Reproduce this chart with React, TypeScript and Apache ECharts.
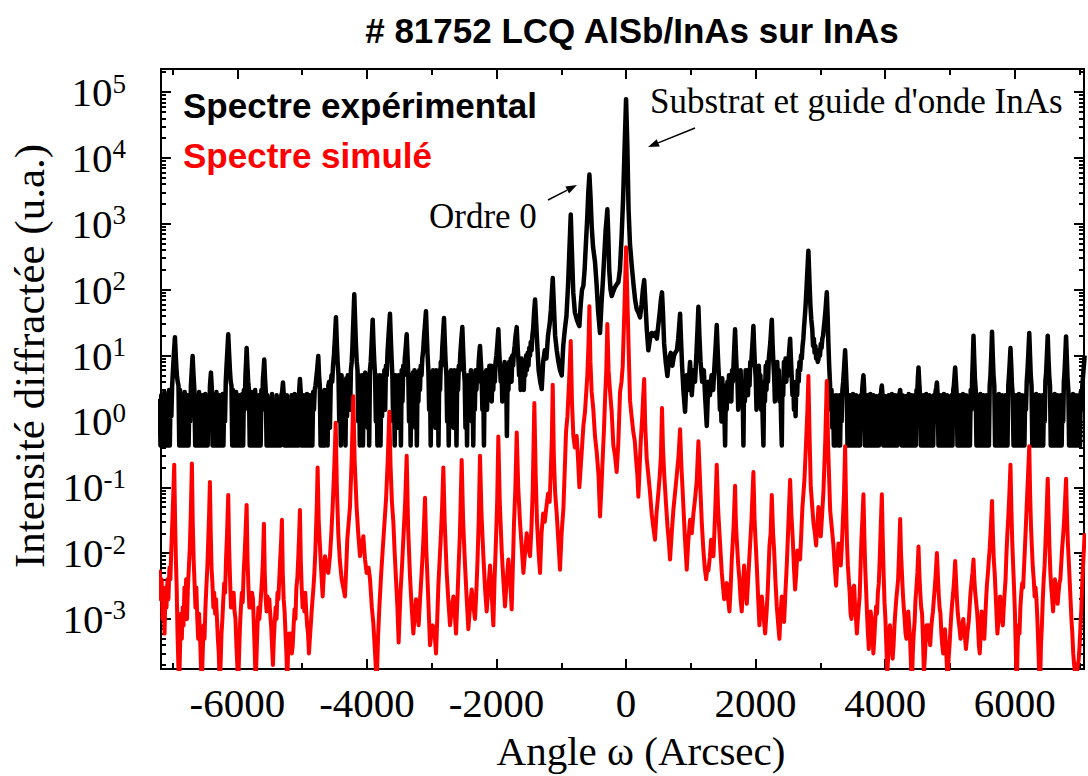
import React, { useEffect, useRef } from "react";
import * as echarts from "echarts";

// ---- Data (angle in arcsec, diffracted intensity in arbitrary units) ----
const experimentalSpectrum: [number, number][] = [
  [-7200,2.2],[-7188,0.43],[-7176,2.5],[-7164,0.43],[-7152,2],[-7140,0.43],[-7128,2.8],[-7116,0.43],[-7104,2.2],[-7092,0.43],[-7080,2.5],[-7068,0.43],[-7056,3],[-7044,0.43],[-7032,2.5],[-7020,1.2],[-7008,3.5],[-6995,6],[-6980,11],
  [-6965,19],[-6950,9],[-6935,5],[-6922,4],[-6910,3.5],[-6898,0.43],[-6886,3],[-6874,0.43],[-6862,2.5],[-6850,0.43],[-6838,2.2],[-6826,0.43],[-6814,2.8],[-6802,0.43],[-6790,2],[-6778,0.43],[-6766,2.5],[-6754,0.43],[-6742,2.2],[-6730,1],[-6718,3.5],[-6705,6],
  [-6692,9.8],[-6678,5],[-6665,3],[-6652,0.43],[-6640,2.5],[-6628,0.43],[-6616,2.2],[-6604,0.43],[-6592,2.8],[-6580,0.43],[-6568,2],[-6556,0.43],[-6544,2.5],[-6532,0.43],[-6520,2.2],[-6508,0.43],[-6496,2.6],[-6484,0.43],[-6472,2],[-6460,0.43],[-6448,2.5],[-6436,1],[-6424,3.5],
  [-6409,5.5],[-6396,3.2],[-6384,0.43],[-6372,2.5],[-6360,0.43],[-6348,2],[-6336,0.43],[-6324,2.8],[-6312,0.43],[-6300,2.2],[-6288,0.43],[-6276,2.5],[-6264,0.43],[-6252,2],[-6240,0.43],[-6228,2.6],[-6216,0.43],[-6204,2.2],[-6192,1],[-6180,4],[-6168,7],[-6155,12],
  [-6142,21],[-6129,11],[-6116,6],[-6104,4],[-6092,3.5],[-6080,0.43],[-6068,3],[-6056,0.43],[-6044,2.5],[-6032,0.43],[-6020,2.8],[-6008,0.43],[-5996,2.2],[-5984,0.43],[-5972,2.5],[-5960,0.43],[-5948,2],[-5936,0.43],[-5924,2.6],[-5912,0.43],[-5900,3],[-5888,1.5],[-5876,5],[-5866,8],
  [-5858,13],[-5846,7],[-5834,4],[-5822,3],[-5810,0.43],[-5798,2.5],[-5786,0.43],[-5774,2.8],[-5762,0.43],[-5750,2.2],[-5738,0.43],[-5726,3],[-5714,0.43],[-5702,2],[-5690,0.43],[-5678,2.5],[-5666,0.43],[-5654,2.2],[-5642,0.43],[-5630,3],[-5618,1.5],[-5606,4.5],[-5596,6],
  [-5586,8.7],[-5574,4.5],[-5562,2.8],[-5550,0.43],[-5538,2.5],[-5526,0.43],[-5514,2],[-5502,0.43],[-5490,2.2],[-5478,0.43],[-5466,2.6],[-5454,0.43],[-5442,2],[-5430,0.43],[-5418,1.8],[-5406,0.43],[-5394,2.5],[-5382,0.43],[-5370,2.2],[-5358,0.43],[-5346,2],[-5334,0.43],[-5322,2.5],[-5310,2.8],
  [-5297,3.9],[-5285,2.5],[-5273,0.43],[-5261,2.2],[-5249,0.43],[-5237,2.5],[-5225,0.43],[-5213,2],[-5201,0.43],[-5189,1.8],[-5177,0.43],[-5165,2.5],[-5153,0.43],[-5141,2.2],[-5129,0.43],[-5117,2.6],[-5105,0.43],[-5093,2],[-5081,0.43],[-5069,2.5],[-5057,0.43],[-5046,3],
  [-5035,4.4],[-5023,2.8],[-5011,0.43],[-4999,2.2],[-4987,0.43],[-4975,2.5],[-4963,0.43],[-4951,2],[-4939,0.43],[-4927,2.6],[-4915,0.43],[-4903,2.2],[-4891,0.43],[-4879,2.5],[-4867,0.43],[-4855,2],[-4843,0.43],[-4831,2.8],[-4819,1.5],[-4807,3],[-4795,3.5],[-4783,4.5],[-4770,6],
  [-4752,9.8],[-4740,5],[-4728,3.5],[-4716,0.43],[-4704,2.8],[-4692,0.43],[-4680,2.5],[-4668,0.43],[-4656,3],[-4644,0.43],[-4632,2.5],[-4620,3],[-4608,0.43],[-4596,3.5],[-4584,4],[-4572,0.8],[-4560,3.5],[-4548,5],[-4536,4],[-4524,7],[-4510,10],[-4495,18],
  [-4479,38],[-4466,16],[-4453,8],[-4440,5],[-4428,1],[-4416,4.5],[-4404,0.43],[-4392,5],[-4380,1.5],[-4368,4],[-4356,0.8],[-4344,3.5],[-4332,0.43],[-4320,4.5],[-4308,1.2],[-4296,5],[-4284,2],[-4272,4],[-4260,1.5],[-4248,6],[-4236,8],[-4224,14],[-4210,35],
  [-4196,85],[-4182,32],[-4170,14],[-4158,8],[-4146,6],[-4134,1],[-4122,5],[-4110,0.43],[-4098,4.5],[-4086,1.5],[-4074,5],[-4062,0.43],[-4050,4],[-4038,1.2],[-4026,5.5],[-4014,2],[-4002,4.5],[-3990,0.8],[-3978,5],[-3966,0.43],[-3954,6],[-3942,8],[-3930,14],
  [-3912,35],[-3899,15],[-3887,8],[-3875,5],[-3863,1],[-3851,5],[-3839,0.43],[-3827,4.5],[-3815,1.5],[-3803,5],[-3791,0.43],[-3779,4],[-3767,1.2],[-3755,5],[-3743,2],[-3731,6],[-3719,1.5],[-3707,7],[-3695,5],[-3683,11],[-3670,18],[-3658,28],
  [-3645,43],[-3632,18],[-3620,9],[-3608,5],[-3596,1],[-3584,4.5],[-3572,0.43],[-3560,5],[-3548,1.5],[-3536,4],[-3524,0.8],[-3512,5],[-3500,2],[-3488,4.5],[-3476,0.43],[-3464,6],[-3452,2],[-3440,7],[-3428,5],[-3416,9],[-3402,13],
  [-3387,21],[-3374,10],[-3362,5],[-3350,1],[-3338,4.5],[-3326,0.43],[-3314,5],[-3302,1.5],[-3290,5.5],[-3278,2],[-3266,6],[-3254,0.8],[-3242,5],[-3230,0.43],[-3218,5.5],[-3206,2],[-3194,6],[-3182,3],[-3170,7],[-3158,5],[-3146,9],[-3132,12],[-3118,20],[-3104,30],
  [-3089,47],[-3076,20],[-3064,10],[-3052,6],[-3040,1.5],[-3028,5],[-3016,0.43],[-3004,5.5],[-2992,1.5],[-2980,6],[-2968,2],[-2956,5],[-2944,0.8],[-2932,6],[-2920,1.5],[-2908,5],[-2896,0.43],[-2884,6],[-2872,3],[-2860,8],[-2848,7],[-2836,14],[-2824,22],
  [-2811,37],[-2798,16],[-2786,8],[-2774,5],[-2762,1],[-2750,5],[-2738,0.43],[-2726,5.5],[-2714,1.5],[-2702,6],[-2690,2],[-2678,5],[-2666,0.8],[-2654,6],[-2642,1.5],[-2630,5],[-2618,0.43],[-2606,6],[-2594,3],[-2582,7],[-2570,6],[-2558,11],[-2544,17],
  [-2528,27],[-2515,12],[-2503,6],[-2491,4],[-2479,0.8],[-2467,4.5],[-2455,0.43],[-2443,5],[-2431,1.5],[-2419,5],[-2407,2],[-2395,6],[-2383,1],[-2371,5],[-2359,0.43],[-2347,5],[-2335,1.5],[-2323,6],[-2311,3],[-2299,5],[-2287,4],[-2275,8],[-2265,11],
  [-2255,14],[-2242,8],[-2230,5],[-2218,1.5],[-2206,5],[-2194,0.43],[-2182,5.5],[-2170,2],[-2158,6],[-2146,1.5],[-2134,6],[-2122,2.5],[-2110,7],[-2098,3],[-2086,7],[-2074,2],[-2062,6],[-2050,3],[-2038,7],[-2026,4],[-2014,8],[-2002,10],[-1990,14],[-1982,18],
  [-1972,25],[-1959,12],[-1947,7],[-1935,4],[-1923,7],[-1911,2],[-1899,7],[-1887,3],[-1875,8],[-1863,2.5],[-1851,6],[-1840,0.6],[-1828,6],[-1816,3],[-1804,8],[-1792,5],[-1780,9],[-1768,4],[-1756,10],[-1744,7],[-1732,11],[-1720,14],[-1706,20],
  [-1688,27],[-1675,14],[-1663,9],[-1651,5],[-1639,8],[-1627,3],[-1615,9],[-1603,4],[-1591,8],[-1579,3],[-1567,7],[-1555,5],[-1543,10],[-1531,6],[-1519,11],[-1507,7],[-1495,13],[-1483,10],[-1471,16],[-1459,12],[-1447,20],[-1435,25],[-1420,45],
  [-1405,71],[-1390,35],[-1370,14],[-1350,6],[-1325,4],[-1302,3.1],[-1280,8],[-1255,12],[-1230,9],[-1205,20],[-1180,30],[-1160,50],[-1145,90],
  [-1132,150],[-1115,60],[-1095,20],[-1070,12],[-1045,8],[-1020,6],[-993,5],[-970,14],[-945,25],[-920,40],[-895,120],[-875,400],
  [-854,1380],[-835,350],[-815,90],[-790,45],[-760,35],[-735,30],[-721,28],[-700,60],[-680,100],[-659,115],[-640,200],[-620,500],[-600,1200],[-583,3000],
  [-566,5600],[-548,2500],[-530,900],[-510,450],[-479,260],[-455,120],[-430,45],[-402,22],[-380,60],[-355,150],[-335,350],[-315,800],[-300,1200],
  [-289,1660],[-275,700],[-260,200],[-240,100],[-221,80],[-195,95],[-170,110],[-145,120],[-119,130],[-95,200],[-70,600],[-45,2500],[-25,12000],
  [0,78000],[20,15000],[38,1700],[60,500],[88,230],[115,120],[140,70],[165,50],[190,45],[216,38],[240,60],[260,100],
  [280,140],[300,60],[320,25],[344,12],[370,18],[395,22],[420,20],[448,22],[475,18],[500,30],[520,45],[538,70],
  [555,91],[570,45],[588,15],[612,8],[638,4.9],[665,9],[690,11],[715,7],[740,10],[760,11],[785,12],[805,18],[820,28],
  [834,43],[848,18],[865,7],[885,3],[911,1.4],[935,5],[960,3],[988,8],[1015,2.5],[1040,6],[1065,4],[1085,10],[1103,25],
  [1117,55],[1132,20],[1150,8],[1175,4],[1200,6],[1225,2],[1246,0.85],[1270,4],[1295,2.5],[1320,5],[1345,3],[1365,7],[1385,15],
  [1400,29],[1413,13],[1425,7],[1437,4],[1449,1.5],[1461,4],[1473,1],[1485,4.5],[1497,2],[1509,3.5],[1521,1],[1529,0.43],[1541,3],[1553,1.5],[1565,4],[1577,2],[1589,5],[1601,2.5],[1613,5],[1625,2],[1637,6],[1649,4],[1661,8],[1672,14],
  [1683,25],[1696,11],[1708,6],[1720,4],[1732,1.5],[1744,5],[1756,2],[1768,6],[1780,2.5],[1792,4],[1804,1.5],[1812,0.43],[1822,4],[1834,2],[1846,6],[1858,3],[1870,6],[1882,2.5],[1894,6],[1906,3.5],[1918,8],[1930,7],[1942,11],[1954,17],
  [1966,28],[1978,13],[1990,7],[2002,4.5],[2014,1.5],[2026,5],[2038,2],[2050,7],[2062,3],[2074,5],[2086,1.5],[2098,4],[2110,1],[2121,0.43],[2132,4],[2144,2],[2156,7],[2168,3],[2180,8],[2192,4],[2204,9],[2216,12],[2228,16],[2239,24],
  [2250,35],[2262,15],[2274,8],[2286,5],[2298,2],[2310,6],[2322,2.5],[2334,8],[2346,3],[2358,6],[2370,2],[2382,4],[2394,1],[2404,0.43],[2414,4],[2426,2.5],[2438,8],[2450,4],[2462,9],[2474,4],[2486,7],[2498,5],[2510,9],[2522,13],
  [2533,18],[2545,9],[2557,5],[2569,2.5],[2581,4],[2593,1.5],[2605,3],[2617,1.2],[2629,4],[2641,2.5],[2653,6],[2665,4],[2677,8],[2689,6],[2701,10],[2713,9],[2725,14],[2737,18],[2749,28],[2761,40],[2773,60],[2785,100],[2800,200],
  [2815,390],[2830,150],[2845,60],[2860,35],[2875,25],[2887,14],[2899,18],[2911,11],[2923,14],[2935,9],[2947,12],[2959,8],[2970,8.7],[2982,12],[2994,10],[3006,15],[3018,13],[3030,18],[3042,20],[3054,27],[3066,35],[3080,50],
  [3099,91],[3112,40],[3124,15],[3136,7],[3148,3.9],[3160,1.5],[3172,3],[3184,0.8],[3196,2.5],[3208,0.43],[3220,2.2],[3232,0.43],[3244,2.5],[3256,0.8],[3268,2.2],[3280,0.43],[3292,2.5],[3304,0.43],[3316,2.2],[3328,1],[3340,3],[3352,4],[3364,6],[3374,9],
  [3382,12],[3395,6],[3407,3],[3419,0.43],[3431,2.2],[3443,0.43],[3455,2.5],[3467,0.43],[3479,2],[3491,0.43],[3503,2.6],[3515,0.43],[3527,2.2],[3539,0.43],[3551,2.5],[3563,0.43],[3575,2],[3587,0.43],[3599,2.4],[3611,0.43],[3623,2.5],[3635,1],[3645,3],[3655,4],
  [3665,5],[3676,3.2],[3688,0.43],[3700,2.2],[3712,0.43],[3724,2.5],[3736,0.43],[3748,2],[3760,0.43],[3772,2.6],[3784,0.43],[3796,2.2],[3808,0.43],[3820,2.5],[3832,0.43],[3844,2],[3856,0.43],[3868,2.4],[3880,0.43],[3892,2.2],[3904,0.43],[3916,2.5],[3928,1.2],[3939,3],
  [3949,3.5],[3960,2.5],[3972,0.43],[3984,2],[3996,0.43],[4008,2.4],[4020,0.43],[4032,2.2],[4044,0.43],[4056,2.5],[4068,0.43],[4080,2],[4092,0.43],[4104,2.6],[4116,0.43],[4128,2.2],[4140,0.43],[4152,2.5],[4164,0.43],[4176,2],[4188,0.43],[4200,2.5],[4212,1],[4222,2.6],
  [4232,3],[4244,2.2],[4256,0.43],[4268,2.5],[4280,0.43],[4292,2],[4304,0.43],[4316,2.4],[4328,0.43],[4340,2.2],[4352,0.43],[4364,2.6],[4376,0.43],[4388,2],[4400,0.43],[4412,2.5],[4424,0.43],[4436,2.2],[4448,0.43],[4460,2.5],[4472,0.43],[4484,3],[4494,2.5],[4505,4.5],
  [4515,6.6],[4526,4],[4538,2.5],[4550,0.43],[4562,2.2],[4574,0.43],[4586,2.5],[4598,0.43],[4610,2],[4622,0.43],[4634,2.6],[4646,0.43],[4658,2.2],[4670,0.43],[4682,2.5],[4694,0.43],[4706,2],[4718,0.43],[4730,2.4],[4742,0.43],[4754,2.5],[4766,1],[4777,2.8],[4788,3.2],
  [4799,3.9],[4811,2.5],[4823,0.43],[4835,2.2],[4847,0.43],[4859,2.5],[4871,0.43],[4883,2],[4895,0.43],[4907,2.6],[4919,0.43],[4931,2.2],[4943,0.43],[4955,2.5],[4967,0.43],[4979,2],[4991,0.43],[5003,2.4],[5015,0.43],[5027,2.5],[5039,0.43],[5051,3],[5061,3.5],[5071,4.8],
  [5081,6.6],[5093,4],[5105,2.5],[5117,0.43],[5129,2.2],[5141,0.43],[5153,2.5],[5165,0.43],[5177,2],[5189,0.43],[5201,2.6],[5213,0.43],[5225,2.2],[5237,0.43],[5249,2.5],[5261,0.43],[5273,2],[5285,0.43],[5297,2.4],[5309,0.43],[5321,3],[5333,1.5],[5343,4.5],[5354,9],
  [5364,20],[5375,9],[5386,4.5],[5398,3],[5410,0.43],[5422,2.5],[5434,0.43],[5446,2.2],[5458,0.43],[5470,2.6],[5482,0.43],[5494,2],[5506,0.43],[5518,2.5],[5530,0.43],[5542,2.2],[5554,0.43],[5566,2.5],[5578,0.43],[5590,2.4],[5602,0.43],[5614,3.5],[5626,5],[5638,10],
  [5650,23],[5662,10],[5673,5],[5685,3.5],[5697,0.43],[5709,2.5],[5721,0.43],[5733,2.2],[5745,0.43],[5757,2.6],[5769,0.43],[5781,2],[5793,0.43],[5805,2.5],[5817,0.43],[5829,2.2],[5841,0.43],[5853,2.5],[5865,0.43],[5877,2.4],[5889,0.43],[5901,3.5],[5912,5],[5924,8],
  [5935,13],[5947,7],[5958,3.5],[5970,2.5],[5982,0.43],[5994,2.2],[6006,0.43],[6018,2.5],[6030,0.43],[6042,2],[6054,0.43],[6066,2.6],[6078,0.43],[6090,2.2],[6102,0.43],[6114,2.5],[6126,0.43],[6138,2.4],[6150,0.43],[6162,2.5],[6174,1.5],[6186,4],[6198,6],[6211,11],
  [6225,22],[6237,10],[6248,5],[6260,3.5],[6272,0.43],[6284,2.5],[6296,0.43],[6308,2.2],[6320,0.43],[6332,2.6],[6344,0.43],[6356,2],[6368,0.43],[6380,2.5],[6392,0.43],[6404,2.2],[6416,0.43],[6428,2.5],[6440,0.43],[6452,2.4],[6464,1],[6474,4],[6485,5.5],[6497,10],
  [6510,20],[6522,9],[6533,5],[6545,3.5],[6557,0.43],[6569,2.5],[6581,0.43],[6593,2.2],[6605,0.43],[6617,2.6],[6629,0.43],[6641,2],[6653,0.43],[6665,2.5],[6677,0.43],[6689,2.2],[6701,0.43],[6713,2.5],[6725,0.43],[6737,2.4],[6749,1],[6759,4],[6769,5.5],[6781,10],
  [6793,19.5],[6805,9],[6816,4.5],[6828,3],[6840,0.43],[6852,2.5],[6864,0.43],[6876,2.2],[6888,0.43],[6900,2.6],[6912,0.43],[6924,2],[6936,0.43],[6948,2.5],[6960,0.43],[6972,2.2],[6984,0.43],[6996,2.5],[7008,0.43],[7020,2.8],[7032,1.5],[7044,3.5],[7056,5],[7068,7],[7080,10]
];

const simulatedSpectrum: [number, number][] = [
  [-7200,5.6e-3],[-7185,2e-3],[-7170,4e-3],[-7155,1e-3],[-7140,2.5e-3],[-7125,6e-4],[-7110,3e-3],[-7095,1.5e-3],[-7080,4e-3],[-7065,2e-3],[-7050,6e-3],[-7035,4e-3],[-7020,0.012],[-7005,0.03],[-6990,0.08],
  [-6976,0.22],[-6962,0.03],[-6950,8e-3],[-6938,3e-3],[-6925,6e-4],[-6912,2e-4],[-6898,1e-4],[-6885,4e-4],[-6872,1.2e-3],[-6858,5e-4],[-6845,1.5e-3],[-6832,8e-4],[-6818,3e-3],[-6805,1.5e-3],[-6792,4e-3],[-6778,1e-3],[-6765,3e-3],[-6750,6e-3],[-6735,0.012],[-6720,0.04],
  [-6703,0.23],[-6690,0.03],[-6676,8e-3],[-6662,3.5e-3],[-6648,1.5e-3],[-6634,3e-3],[-6620,1e-3],[-6606,5e-4],[-6592,1.2e-3],[-6578,6e-4],[-6564,2e-4],[-6550,1e-4],[-6536,3e-4],[-6522,8e-4],[-6508,5e-4],[-6494,1.5e-3],[-6480,3e-3],[-6465,6e-3],[-6450,0.016],[-6437,0.04],
  [-6425,0.12],[-6412,0.02],[-6400,6e-3],[-6386,3.5e-3],[-6372,1.5e-3],[-6358,2.5e-3],[-6344,1.2e-3],[-6330,2e-3],[-6316,1e-3],[-6302,5e-4],[-6288,3e-4],[-6274,1e-4],[-6260,2e-4],[-6246,6e-4],[-6232,1e-3],[-6218,2e-3],[-6204,3.5e-3],[-6190,2.5e-3],[-6176,8e-3],[-6160,0.02],
  [-6142,0.076],[-6128,0.012],[-6114,4e-3],[-6100,1.5e-3],[-6086,2.5e-3],[-6072,1.5e-3],[-6058,2.5e-3],[-6044,1.3e-3],[-6030,1e-3],[-6016,4e-4],[-6002,2e-4],[-5988,1e-4],[-5974,3e-4],[-5960,8e-4],[-5946,1.5e-3],[-5932,2.5e-3],[-5918,1.8e-3],[-5904,5e-3],[-5890,9e-3],[-5875,0.02],
  [-5858,0.054],[-5844,8e-3],[-5830,3e-3],[-5816,1.5e-3],[-5802,2.5e-3],[-5788,1.5e-3],[-5774,2.5e-3],[-5760,2e-3],[-5746,8e-4],[-5732,3e-4],[-5718,1e-4],[-5704,3e-4],[-5690,8e-4],[-5676,1.5e-3],[-5662,1e-3],[-5648,1.5e-3],[-5634,2.5e-3],[-5620,4e-3],[-5606,8e-3],
  [-5591,0.028],[-5578,5e-3],[-5564,2e-3],[-5550,1.3e-3],[-5536,2.2e-3],[-5522,1.5e-3],[-5508,2e-3],[-5494,1.2e-3],[-5480,8e-4],[-5466,4e-4],[-5452,2e-4],[-5438,5e-4],[-5424,9e-4],[-5410,1.5e-3],[-5396,1e-3],[-5382,2.5e-3],[-5368,2e-3],[-5354,4e-3],[-5340,8e-3],[-5326,0.015],
  [-5313,0.032],[-5300,5e-3],[-5286,2e-3],[-5272,1.3e-3],[-5258,6e-4],[-5244,3e-4],[-5230,1e-4],[-5216,4e-4],[-5202,6e-4],[-5188,4e-4],[-5174,6e-4],[-5160,3e-4],[-5146,4e-4],[-5132,8e-4],[-5118,1.4e-3],[-5104,1e-3],[-5090,3e-3],[-5076,4e-3],[-5062,8e-3],[-5048,0.018],
  [-5035,0.045],[-5022,8e-3],[-5008,3e-3],[-4994,1.5e-3],[-4980,2.5e-3],[-4966,1.3e-3],[-4952,2.5e-3],[-4938,1.3e-3],[-4924,8e-4],[-4910,6e-4],[-4896,3e-4],[-4882,5e-4],[-4868,8e-4],[-4854,1.3e-3],[-4840,2e-3],[-4826,3e-3],[-4812,5e-3],[-4798,0.01],[-4785,0.025],[-4773,0.06],
  [-4762,0.2],[-4745,0.03],[-4726,0.013],[-4705,5e-3],[-4684,2.2e-3],[-4665,5e-3],[-4648,9e-3],[-4620,6e-3],[-4597,5e-3],[-4571,9e-3],[-4550,0.02],[-4530,0.051],[-4505,0.2],
  [-4483,0.95],[-4465,0.1],[-4443,0.02],[-4420,8e-3],[-4391,4e-3],[-4365,3e-3],[-4340,2.2e-3],[-4320,6e-3],[-4304,0.016],[-4262,0.051],[-4235,0.3],
  [-4211,2.4],[-4190,0.25],[-4160,0.05],[-4135,0.02],[-4108,9e-3],[-4080,0.014],[-4056,0.018],[-4030,8e-3],[-4005,5e-3],[-3975,6e-3],[-3953,4e-3],[-3925,1.5e-3],[-3902,8.7e-4],[-3875,3e-4],[-3850,1e-4],[-3830,5e-4],[-3809,1.5e-3],[-3780,5e-3],[-3747,0.016],[-3706,0.065],[-3680,0.25],
  [-3655,1.4],[-3635,0.2],[-3615,0.06],[-3593,0.03],[-3572,0.01],[-3552,4e-3],[-3530,1.5e-3],[-3511,4.4e-4],[-3495,1.2e-3],[-3480,2.8e-3],[-3460,6e-3],[-3439,0.016],[-3410,0.06],
  [-3387,0.3],[-3365,0.025],[-3336,4.5e-3],[-3310,1.5e-3],[-3284,6e-4],[-3262,1.2e-3],[-3243,2e-3],[-3222,1.2e-3],[-3202,8e-4],[-3180,2e-3],[-3156,5e-3],[-3130,0.015],
  [-3104,0.069],[-3085,0.012],[-3063,3.5e-3],[-3045,1.2e-3],[-3027,4e-4],[-3005,6e-4],[-2986,8e-4],[-2960,7e-4],[-2934,3e-4],[-2915,1e-3],[-2898,3.2e-3],[-2862,0.016],[-2840,0.05],
  [-2821,0.2],[-2800,0.03],[-2769,5e-3],[-2745,2e-3],[-2718,8e-4],[-2690,1.5e-3],[-2666,2.2e-3],[-2645,1.2e-3],[-2625,6e-4],[-2605,1.8e-3],[-2589,5e-3],[-2565,0.02],
  [-2538,0.26],[-2515,0.03],[-2486,6.5e-3],[-2460,2e-3],[-2435,7e-4],[-2410,1.5e-3],[-2383,2.8e-3],[-2358,1.6e-3],[-2332,1e-3],[-2312,2.5e-3],[-2296,6.5e-3],[-2275,0.03],
  [-2255,0.3],[-2232,0.04],[-2203,9e-3],[-2178,3e-3],[-2152,1.3e-3],[-2125,3e-3],[-2100,6.5e-3],[-2075,2.5e-3],[-2049,8e-4],[-2030,4e-3],[-2008,0.016],[-1990,0.06],
  [-1972,0.59],[-1950,0.06],[-1920,0.011],[-1895,4e-3],[-1869,1.55e-3],[-1845,3.5e-3],[-1817,8e-3],[-1790,4e-3],[-1766,1.4e-3],[-1748,6e-3],[-1730,0.029],[-1710,0.09],
  [-1688,0.68],[-1665,0.1],[-1637,0.029],[-1610,0.012],[-1585,5e-3],[-1560,0.01],[-1534,0.02],[-1508,0.012],[-1482,9e-3],[-1460,0.025],[-1441,0.09],
  [-1416,1.9],[-1395,0.15],[-1375,0.03],[-1350,0.01],[-1328,5e-3],[-1305,0.02],[-1280,0.04],[-1255,0.03],[-1230,0.05],[-1205,0.08],[-1180,0.06],[-1160,0.2],[-1145,0.6],
  [-1132,3.6],[-1115,0.3],[-1095,0.083],[-1071,0.04],[-1045,0.015],[-1020,5.6e-3],[-995,0.02],[-968,0.046],[-945,0.2],[-927,0.68],[-905,1.2],[-880,4],
  [-854,16.6],[-835,2],[-814,0.6],[-790,0.4],[-762,0.6],[-740,0.25],[-721,0.1],[-700,0.2],[-685,0.34],[-659,0.85],[-634,1.4],[-598,5],[-580,15],
  [-566,56],[-550,8],[-531,2.8],[-505,1.5],[-480,0.6],[-453,0.34],[-425,0.15],[-402,0.036],[-380,0.1],[-361,0.27],[-340,0.8],[-325,2.1],[-305,6],
  [-289,30],[-270,6],[-247,2.8],[-222,1.4],[-196,0.43],[-170,0.3],[-145,0.17],[-119,0.48],[-93,2.8],[-70,4],[-52,6.9],[-26,50],
  [0,440],[25,50],[45,8],[61,2.1],[85,1.2],[113,0.68],[135,0.5],[154,0.27],[175,0.15],[190,0.072],[210,0.2],[226,0.48],[250,1.2],[265,2.5],
  [280,4.4],[295,0.9],[319,0.27],[345,0.15],[370,0.083],[395,0.04],[420,0.025],[447,0.016],[470,0.04],[499,0.083],[520,0.15],[538,0.3],
  [555,1.6],[570,0.4],[590,0.15],[615,0.06],[640,0.025],[660,0.015],[679,8e-3],[705,0.02],[731,0.046],[755,0.08],[782,0.15],[810,0.3],
  [834,0.76],[855,0.2],[875,0.083],[905,0.02],[937,5.6e-3],[960,0.015],[988,0.032],[1015,0.02],[1040,0.04],[1065,0.066],[1090,0.12],
  [1117,0.5],[1143,0.12],[1169,0.029],[1194,0.011],[1215,6e-3],[1236,4e-3],[1255,6e-3],[1272,5.5e-3],[1295,9e-3],[1313,0.016],[1330,0.01],[1349,9e-3],[1375,0.04],
  [1400,0.22],[1420,0.05],[1442,0.02],[1460,0.01],[1478,5e-3],[1514,2e-3],[1535,3e-3],[1555,3.5e-3],[1575,2e-3],[1596,1.3e-3],[1615,3e-3],[1632,8e-3],[1660,0.025],
  [1683,0.105],[1695,0.03],[1709,0.016],[1730,7e-3],[1750,4e-3],[1768,2e-3],[1786,1.3e-3],[1805,3e-3],[1822,6.5e-3],[1845,3e-3],[1864,1.7e-3],[1885,4e-3],[1905,9e-3],[1935,0.03],
  [1966,0.17],[1985,0.03],[2018,6.5e-3],[2040,2e-3],[2059,8e-4],[2078,1.5e-3],[2095,2.2e-3],[2120,1.2e-3],[2147,6e-4],[2168,1.2e-3],[2188,2.8e-3],[2214,0.013],[2232,0.02],
  [2250,0.076],[2270,0.02],[2286,0.011],[2305,4e-3],[2327,1.55e-3],[2350,8e-4],[2368,5e-4],[2385,1.2e-3],[2404,2.2e-3],[2420,1.5e-3],[2440,9e-4],[2460,2.5e-3],[2481,6.5e-3],[2507,0.029],
  [2533,0.13],[2552,0.04],[2574,0.016],[2592,6e-3],[2610,2.8e-3],[2628,5e-3],[2646,0.011],[2667,9e-3],[2687,8e-3],[2705,0.02],[2723,0.05],[2754,0.13],[2780,0.5],[2800,1.5],
  [2815,4.9],[2835,0.5],[2852,0.1],[2875,0.05],[2893,0.029],[2915,0.02],[2934,0.013],[2952,0.025],[2970,0.05],[2990,0.03],[3006,0.018],[3028,0.04],[3048,0.09],[3075,0.5],
  [3099,4.1],[3120,0.4],[3151,0.045],[3175,0.025],[3202,0.013],[3222,6e-3],[3243,3.2e-3],[3260,7e-3],[3279,0.014],[3298,9e-3],[3315,6.5e-3],[3330,0.012],[3346,0.029],[3365,0.08],
  [3382,0.42],[3396,0.06],[3410,0.015],[3424,6.5e-3],[3438,4e-3],[3452,2.5e-3],[3466,1.2e-3],[3480,1e-3],[3494,1.8e-3],[3508,3e-3],[3522,3.2e-3],[3536,1.5e-3],[3550,1e-3],[3564,6e-4],[3578,1e-3],[3592,1.5e-3],[3606,2.2e-3],[3620,6e-3],[3634,0.016],[3650,0.035],
  [3665,0.078],[3678,0.02],[3692,6e-3],[3706,2.8e-3],[3720,1.2e-3],[3734,6e-4],[3748,3.5e-4],[3762,8e-4],[3776,1.3e-3],[3790,1e-3],[3804,6e-4],[3818,3e-4],[3832,5e-4],[3846,9e-4],[3860,1.55e-3],[3874,1.2e-3],[3888,2.5e-3],[3902,3.5e-3],[3916,8e-3],[3932,0.025],
  [3949,0.078],[3962,0.018],[3976,5e-3],[3990,1.8e-3],[4004,1e-3],[4018,4e-4],[4032,1.5e-4],[4046,2.5e-4],[4060,6e-4],[4074,8e-4],[4088,5e-4],[4102,4e-4],[4116,2.5e-4],[4130,4e-4],[4144,8e-4],[4158,1.3e-3],[4172,2e-3],[4186,2.8e-3],[4200,4e-3],[4215,0.01],
  [4232,0.033],[4245,0.01],[4259,5e-3],[4273,2.5e-3],[4287,1.5e-3],[4301,1e-3],[4315,6e-4],[4329,5e-4],[4343,8e-4],[4357,1.3e-3],[4371,8e-4],[4385,5e-4],[4399,2e-4],[4413,1e-4],[4427,3e-4],[4441,6e-4],[4455,9e-4],[4469,2e-3],[4483,3e-3],[4498,5e-3],
  [4515,0.0126],[4528,5e-3],[4542,2.5e-3],[4556,1.5e-3],[4570,1.2e-3],[4584,5e-4],[4598,1.5e-4],[4612,2.5e-4],[4626,5e-4],[4640,8e-4],[4654,6e-4],[4668,8e-4],[4682,5e-4],[4696,4e-4],[4710,7e-4],[4724,1e-3],[4738,1.3e-3],[4752,2e-3],[4766,3e-3],[4782,5e-3],
  [4799,0.01],[4812,5e-3],[4826,2.5e-3],[4840,1.5e-3],[4854,1.2e-3],[4868,6e-4],[4882,4e-4],[4896,3e-4],[4910,5e-4],[4924,7e-4],[4938,4e-4],[4952,2e-4],[4966,1e-4],[4980,2.5e-4],[4994,4e-4],[5008,7e-4],[5022,1.2e-3],[5036,1.8e-3],[5050,2.5e-3],[5065,4e-3],
  [5081,7.6e-3],[5094,4e-3],[5108,2e-3],[5122,1.2e-3],[5136,9e-4],[5150,7e-4],[5164,5e-4],[5178,6e-4],[5192,8e-4],[5206,1e-3],[5220,7e-4],[5234,5e-4],[5248,3.5e-4],[5262,5e-4],[5276,7e-4],[5290,9e-4],[5304,1.5e-3],[5318,2.5e-3],[5332,3.5e-3],[5348,5e-3],
  [5364,8e-3],[5377,4e-3],[5391,2.5e-3],[5405,1.8e-3],[5419,1.3e-3],[5433,8e-4],[5447,4e-4],[5461,3e-4],[5475,6e-4],[5489,1.3e-3],[5503,1e-3],[5517,6e-4],[5531,5e-4],[5545,1e-3],[5559,2e-3],[5573,3.5e-3],[5587,5e-3],[5601,8e-3],[5615,0.012],[5632,0.025],
  [5650,0.062],[5663,0.02],[5677,8e-3],[5691,5e-3],[5705,2.5e-3],[5719,1.2e-3],[5733,6e-4],[5747,9e-4],[5761,1.5e-3],[5775,2.2e-3],[5789,1.5e-3],[5803,1e-3],[5817,8e-4],[5831,1.5e-3],[5845,2.5e-3],[5859,4e-3],[5873,0.01],[5887,0.02],[5901,0.035],[5918,0.08],
  [5935,0.22],[5948,0.05],[5962,0.015],[5976,6.5e-3],[5990,3e-3],[6004,1.2e-3],[6018,3e-4],[6032,1e-4],[6046,4e-4],[6060,8e-4],[6074,6e-4],[6088,1.5e-3],[6102,2.5e-3],[6116,3.5e-3],[6130,3e-3],[6144,6e-3],[6158,0.012],[6172,0.025],[6188,0.06],[6206,0.15],
  [6225,0.42],[6238,0.08],[6252,0.025],[6266,0.012],[6280,6e-3],[6294,4e-3],[6308,2.2e-3],[6322,3e-3],[6336,2e-3],[6350,1e-3],[6364,4e-4],[6378,1.5e-4],[6392,1e-4],[6406,4e-4],[6420,8e-4],[6434,2e-3],[6448,4e-3],[6462,6.5e-3],[6476,0.015],[6492,0.04],
  [6510,0.135],[6523,0.04],[6537,0.012],[6551,5e-3],[6565,3e-3],[6579,2e-3],[6593,1.3e-3],[6607,2.5e-3],[6621,4e-3],[6635,3e-3],[6649,2e-3],[6663,1.7e-3],[6677,2.5e-3],[6691,3.5e-3],[6705,4e-3],[6719,7e-3],[6733,0.012],[6747,0.018],[6762,0.03],[6777,0.06],
  [6793,0.135],[6806,0.04],[6820,0.015],[6834,8e-3],[6848,4e-3],[6862,2e-3],[6876,1e-3],[6890,6e-4],[6904,3e-4],[6918,2e-4],[6932,1.5e-4],[6946,1e-4],[6960,1.5e-4],[6974,2e-4],[6988,2.4e-4],[7002,4e-4],[7016,8e-4],[7030,1.5e-3],[7045,4e-3],[7063,9e-3],[7080,0.02]
];

const xMajorTicks = [-6000, -4000, -2000, 0, 2000, 4000, 6000];
const xMinorTicks = [-7000, -5000, -3000, -1000, 1000, 3000, 5000, 7000];
const yMajorTicks = [1e-3, 1e-2, 1e-1, 1, 10, 100, 1e3, 1e4, 1e5];

const seriesNames = ["Spectre expérimental", "Spectre simulé"];
const chartTitle = "# 81752 LCQ AlSb/InAs sur InAs";
const xTitle = "Angle ω (Arcsec)";
const yTitle = "Intensité diffractée (u.a.)";
const annotationOrder = "Ordre 0";
const annotationSubstrate = "Substrat et guide d'onde InAs";

const X_MIN = -7180;
const X_MAX = 7070;
const Y_MIN = 1.74e-4;
const Y_MAX = 2.24e5;

const SERIF = '"Liberation Serif", "Times New Roman", serif';
const SANS = '"Liberation Sans", Arial, sans-serif';

function minorLogTicks(): number[] {
  const out: number[] = [];
  for (let e = -4; e <= 5; e++) {
    for (let m = 2; m <= 9; m++) {
      const v = m * Math.pow(10, e);
      if (v > Y_MIN && v < Y_MAX) out.push(v);
    }
  }
  return out;
}

function arrow(x1: number, y1: number, x2: number, y2: number) {
  const dx = x2 - x1, dy = y2 - y1;
  const len = Math.hypot(dx, dy);
  const ux = dx / len, uy = dy / len;
  const head = 11, half = 4;
  const bx = x2 - ux * head, by = y2 - uy * head;
  const px = -uy, py = ux;
  return [
    { type: "line", z: 100, shape: { x1, y1, x2: bx, y2: by }, style: { stroke: "#000", lineWidth: 1.5 } },
    {
      type: "polygon", z: 100,
      shape: { points: [[x2, y2], [bx + px * half, by + py * half], [bx - px * half, by - py * half]] },
      style: { fill: "#000" },
    },
  ];
}

export default function App() {
  const ref = useRef<HTMLDivElement>(null);

  useEffect(() => {
    document.body.style.margin = "0";
    if (!ref.current) return;
    const chart = echarts.init(ref.current, null, { renderer: "svg" });
    const yMinor = minorLogTicks();
    const tickStyle = { color: "#000", width: 2 };

    const xAxisBase = (position: "bottom" | "top", ticks: number[], len: number, labels: boolean) => ({
      type: "value",
      min: X_MIN,
      max: X_MAX,
      position,
      axisLine: { show: false, onZero: false },
      splitLine: { show: false },
      axisTick: { show: true, inside: true, length: len, lineStyle: tickStyle, customValues: ticks },
      axisLabel: labels
        ? {
            show: true,
            customValues: ticks,
            margin: 13,
            color: "#000",
            fontFamily: SERIF,
            fontSize: 41,
            formatter: (v: number) => String(v),
          }
        : { show: false },
    });

    const yAxisBase = (position: "left" | "right", ticks: number[], len: number, labels: boolean) => ({
      type: "log",
      logBase: 10,
      min: Y_MIN,
      max: Y_MAX,
      position,
      axisLine: { show: false, onZero: false },
      splitLine: { show: false },
      axisTick: { show: true, inside: true, length: len, lineStyle: tickStyle, customValues: ticks },
      axisLabel: labels
        ? {
            show: true,
            customValues: ticks,
            margin: 35,
            formatter: (v: number) => `{b|10}{e|${Math.round(Math.log10(v))}}`,
            rich: {
              b: { fontFamily: SERIF, fontSize: 41, color: "#000", lineHeight: 44 },
              e: { fontFamily: SERIF, fontSize: 27, color: "#000", lineHeight: 27, verticalAlign: "top" },
            },
          }
        : { show: false },
    });

    chart.setOption({
      animation: false,
      backgroundColor: "#fff",
      grid: {
        left: 161, right: 4, top: 69, bottom: 107,
        show: true, borderColor: "#000", borderWidth: 2, backgroundColor: "transparent",
        containLabel: false,
      },
      xAxis: [
        xAxisBase("bottom", xMajorTicks, 10, true),
        xAxisBase("bottom", xMinorTicks, 6, false),
        xAxisBase("top", xMajorTicks, 10, false),
        xAxisBase("top", xMinorTicks, 6, false),
      ],
      yAxis: [
        yAxisBase("left", yMajorTicks, 10, true),
        yAxisBase("left", yMinor, 5, false),
        yAxisBase("right", yMajorTicks, 10, false),
        yAxisBase("right", yMinor, 5, false),
      ],
      series: [
        {
          name: seriesNames[0],
          type: "line",
          xAxisIndex: 0,
          yAxisIndex: 0,
          data: experimentalSpectrum,
          showSymbol: false,
          symbol: "none",
          clip: true,
          silent: true,
          lineStyle: { color: "#000", width: 4.5, join: "round" },
        },
        {
          name: seriesNames[1],
          type: "line",
          xAxisIndex: 0,
          yAxisIndex: 0,
          data: simulatedSpectrum,
          showSymbol: false,
          symbol: "none",
          clip: true,
          silent: true,
          lineStyle: { color: "#ff0000", width: 4, join: "round" },
        },
      ],
      graphic: [
        {
          type: "text", z: 100, x: 632, y: 30,
          style: { text: chartTitle, font: `bold 35px ${SANS}`, fill: "#000", align: "center", verticalAlign: "middle" },
        },
        {
          type: "text", z: 100, x: 183, y: 105,
          style: { text: seriesNames[0], font: `bold 35px ${SANS}`, fill: "#000", align: "left", verticalAlign: "middle" },
        },
        {
          type: "text", z: 100, x: 183, y: 155,
          style: { text: seriesNames[1], font: `bold 35px ${SANS}`, fill: "#ff0000", align: "left", verticalAlign: "middle" },
        },
        {
          type: "text", z: 100, x: 429, y: 216,
          style: { text: annotationOrder, font: `35px ${SERIF}`, fill: "#000", align: "left", verticalAlign: "middle" },
        },
        {
          type: "text", z: 100, x: 650, y: 101,
          style: { text: annotationSubstrate, font: `35px ${SERIF}`, fill: "#000", align: "left", verticalAlign: "middle" },
        },
        {
          type: "text", z: 100, x: 641, y: 751,
          style: { text: xTitle, font: `41px ${SERIF}`, fill: "#000", align: "center", verticalAlign: "middle" },
        },
        {
          type: "text", z: 100, x: 29, y: 356, rotation: Math.PI / 2,
          style: { text: yTitle, font: `43px ${SERIF}`, fill: "#000", align: "center", verticalAlign: "middle" },
        },
        ...arrow(548, 200, 577, 185),
        ...arrow(695, 128, 648, 147),
      ],
    });

    return () => chart.dispose();
  }, []);

  return <div ref={ref} style={{ width: 1088, height: 776 }} />;
}
